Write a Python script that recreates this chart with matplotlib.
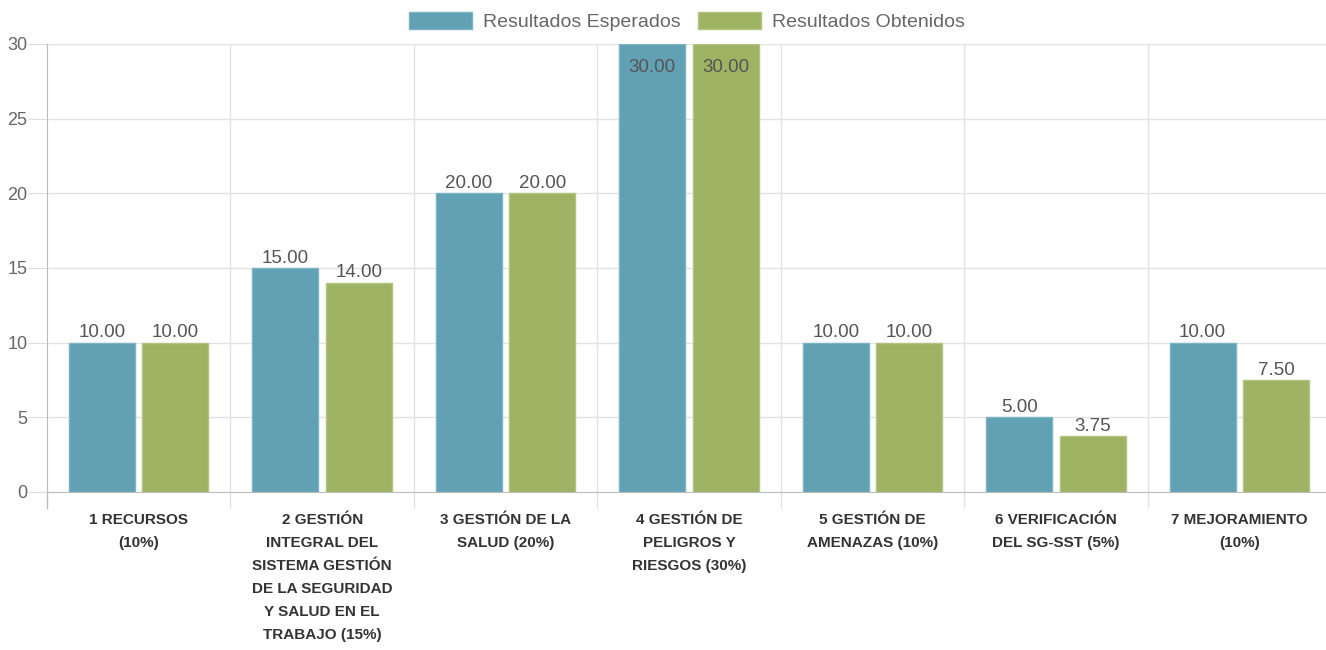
#!/usr/bin/env python3
import numpy as np
import matplotlib
matplotlib.use('Agg')
import matplotlib.pyplot as plt

plt.rcParams['font.family'] = ['Liberation Sans', 'DejaVu Sans']

# **** data ****
categories = ['1 RECURSOS\n(10%)',
              '2 GESTIÓN\nINTEGRAL DEL\nSISTEMA GESTIÓN\nDE LA SEGURIDAD\nY SALUD EN EL\nTRABAJO (15%)',
              '3 GESTIÓN DE LA\nSALUD (20%)',
              '4 GESTIÓN DE\nPELIGROS Y\nRIESGOS (30%)',
              '5 GESTIÓN DE\nAMENAZAS (10%)',
              '6 VERIFICACIÓN\nDEL SG-SST (5%)',
              '7 MEJORAMIENTO\n(10%)']
esperados = [10, 15, 20, 30, 10, 5, 10]
obtenidos = [10, 14, 20, 30, 10, 3.75, 7.5]
series_names = ['Resultados Esperados', 'Resultados Obtenidos']

blue = '#62a0b4'
green = '#9db363'

# **** plot ****
fig = plt.figure(figsize=(13.26, 6.5), dpi=100)
ax = fig.add_axes([47 / 1326, 1 - 492 / 650, 1 - 47 / 1326, (492 - 44) / 650])

x = np.arange(len(categories))
w = 0.36
off = 0.2
b1 = ax.bar(x - off, esperados, w, color=blue, edgecolor='#7db3c4', linewidth=1,
            label=series_names[0], zorder=3)
b2 = ax.bar(x + off, obtenidos, w, color=green, edgecolor='#b2c57f', linewidth=1,
            label=series_names[1], zorder=3)

ymax = 30
ax.set_ylim(0, ymax)
ax.set_xlim(-0.5, 6.5 - 5 / 183.4)

# value labels (inside the bar when it reaches the top)
for bars, vals in ((b1, esperados), (b2, obtenidos)):
    for rect, v in zip(bars, vals):
        cx = rect.get_x() + rect.get_width() / 2
        if v >= ymax:
            ax.text(cx, v - 1.0, f'{v:.2f}', ha='center', va='top', fontsize=13.5,
                    color='#555555', zorder=4)
        else:
            ax.text(cx, v + 0.1, f'{v:.2f}', ha='center', va='bottom', fontsize=13.5,
                    color='#555555', zorder=4)

# grid and ticks
ax.set_yticks(np.arange(0, 31, 5))
ax.set_xticks(x)
ax.set_xticklabels(categories, fontsize=11, fontweight='bold', color='#333333',
                   linespacing=1.83, va='top')
ax.tick_params(axis='x', length=0, pad=15)
ax.tick_params(axis='y', length=14, color='#dddddd', labelcolor='#666666',
               labelsize=13, pad=0)
for yy in np.arange(5, 31, 5):
    ax.axhline(yy, color='#e3e3e3', lw=1, zorder=0)
for xx in np.arange(0.5, 6.5, 1):
    ax.axvline(xx, color='#e3e3e3', lw=1, zorder=0)
    ax.plot([xx, xx], [0, -1.1], color='#e3e3e3', lw=1, clip_on=False, zorder=0)
ax.plot([-0.5, -0.5], [0, -1.1], color='#bbbbbb', lw=1, clip_on=False, zorder=0)

for s in ['top', 'right']:
    ax.spines[s].set_visible(False)
ax.spines['left'].set_color('#bbbbbb')
ax.spines['bottom'].set_color('#bbbbbb')

leg = fig.legend(loc='upper center', bbox_to_anchor=(0.518, 1.008), ncol=2, frameon=False,
                 fontsize=14, handlelength=3.25, handleheight=0.95, columnspacing=0.9,
                 handletextpad=0.55)
for t in leg.get_texts():
    t.set_color('#666666')

plt.savefig('out.png', dpi=100)
